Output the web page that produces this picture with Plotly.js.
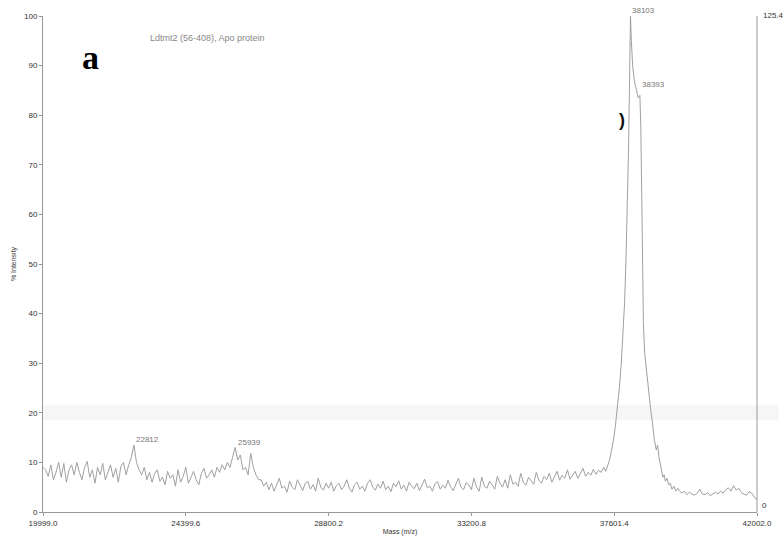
<!DOCTYPE html>
<html>
<head>
<meta charset="utf-8">
<script src="https://cdn.plot.ly/plotly-3.0.1.min.js"></script>
<style>html,body{margin:0;padding:0;background:#fff}#chart{width:783px;height:540px}</style>
</head>
<body>
<div id="chart"></div>
<script>
// Baseline sampled every 80 Da from 20000 to 37200
const gridStart = 20000;
const gridStep = 80;
const lowIntensity = [
  // 20000 - 22640
  9, 8.5, 7.2, 9.5, 6.5, 8, 10, 7, 9.8, 6, 8.5, 9.5, 7.5, 10, 8, 6.5, 9, 10.2, 7, 8.5,
  5.8, 9, 7.5, 9.8, 6.5, 8.2, 9.5, 7, 8.8, 6, 9.2, 10, 7.5, 9.5,
  // 22720 - 22960 (peak 22812)
  11, 13.5, 10, 8.5,
  // 23040 - 25760
  7.5, 9, 6.5, 8, 6, 7.8, 8.5, 6.2, 7, 5.5, 8.2, 6.8, 7.5, 5.2, 8.5, 6, 7.2, 9, 5.8, 7,
  8.2, 6.5, 5.5, 7.8, 8.8, 6.8, 7.5, 8.5, 7, 9, 8, 9.5, 8.5, 10, 9,
  // 25840 - 26640 (peak 25939)
  11, 13, 10.5, 11.5, 8.5, 9, 7.5, 11.8, 9, 7.5, 6.5,
  // 26720 - 33040
  6.5, 5.2, 6, 4.5, 5.8, 4.2, 5.5, 6.8, 4.8, 5.2,
  4, 6.2, 5, 4.5, 6.5, 5.2, 4.3, 5.8, 6.2, 4.6,
  5.5, 4.2, 6.8, 5, 4.4, 5.8, 4.8, 6, 4.2, 5.3,
  5.8, 4.5, 5.2, 6.5, 4.8, 4, 5.5, 6, 4.6, 5.2,
  4.2, 5.8, 6.5, 5, 4.4, 5.6, 4.8, 6.2, 4.5, 5.2,
  4.1, 5.8, 5.1, 6.3, 4.6, 5.4, 4.2, 6, 5.2, 4.7,
  5.8, 4.3, 5.5, 6.6, 4.9, 5.2, 4.2, 5.7, 6.1, 4.6,
  5.4, 4.8, 6.4, 5.1, 4.3, 5.6, 6.8, 5, 4.5, 5.9,
  // 33120 - 37200
  5.5, 4.5, 6.8, 5, 4.2, 7, 5.2, 4.8, 6.2, 5.5,
  4.6, 7.2, 5.8, 5, 6.5, 4.8, 7.5, 5.6, 6, 5.2,
  7.8, 6, 5.4, 7, 6.2, 5.6, 8, 6.4, 5.8, 7.2,
  6.5, 7.8, 6, 7, 8.2, 6.4, 7.4, 6.8, 8.5, 6.6,
  7.5, 8.2, 6.8, 7.8, 8.8, 7.2, 8, 7.4, 8.6, 7.6,
  8.4, 8
];

// Main peak region
const peakMass = [37280, 37340, 37400, 37460, 37520, 37580, 37640, 37700, 37760, 37820,
  37870, 37920, 37960, 38000, 38040, 38070, 38090, 38103,
  38130, 38170, 38220, 38280, 38340, 38393, 38420, 38450, 38475, 38500,
  38540, 38600, 38660, 38720, 38780, 38840, 38900, 38940, 38980, 39020,
  39060, 39100, 39140, 39180, 39230, 39280, 39330, 39380, 39440, 39500, 39560];
const peakIntensity = [9, 8.2, 9.5, 10.5, 12.5, 14.5, 17.5, 21, 25, 30,
  35, 42, 50, 60, 72, 85, 94, 100,
  95, 90, 87, 85, 83.5, 84, 78, 64, 50, 38,
  32, 28, 24, 21, 18, 14.5, 12.5, 13.5, 11, 10,
  8.5, 7, 7.5, 6.2, 6.8, 5.5, 5.8, 4.6, 5.2, 4.2, 4.8];

// Tail sampled every 80 Da from 39600 to 42000
const tailStart = 39600;
const tailIntensity = [4.4, 3.8, 4.2, 3.5, 4, 3.6, 3.4, 3.8, 4.6, 3.6,
  3.5, 3.9, 3.3, 3.7, 4, 3.6, 4.2, 3.8, 4.5, 4.9,
  4.2, 5.3, 4.4, 4.8, 3.9, 3.6, 3.4, 4.1, 3.8, 3,
  2.4];

const labelMass = [22812, 25939, 38103, 38393];
const labelIntensity = [13.5, 13, 100, 85];

const xTickVals = [19999.0, 24399.6, 28800.2, 33200.8, 37601.4, 42002.0];
const xTickText = ['19999.0', '24399.6', '28800.2', '33200.8', '37601.4', '42002.0'];
const yTickVals = [0, 10, 20, 30, 40, 50, 60, 70, 80, 90, 100];
const rightAxisText = ['0', '125.4'];

const chartTitle = 'Ldtmt2 (56-408), Apo protein';

// assemble series
const mass = [], intensity = [];
lowIntensity.forEach((v, i) => { mass.push(gridStart + i * gridStep); intensity.push(v); });
peakMass.forEach((m, i) => { mass.push(m); intensity.push(peakIntensity[i]); });
tailIntensity.forEach((v, i) => { mass.push(tailStart + i * gridStep); intensity.push(v); });

const tickFont = {family: 'Liberation Sans, Arial, sans-serif', size: 8, color: '#333'};

const annotations = labelMass.map((m, i) => ({
  x: m, y: labelIntensity[i], xref: 'x', yref: 'y', text: String(m),
  showarrow: false, xanchor: 'left', yanchor: 'bottom', xshift: 0, yshift: -1,
  font: {family: 'Liberation Sans, Arial, sans-serif', size: 8, color: '#777'}
}));
annotations.push({x: 0.23, y: 0.955, xref: 'paper', yref: 'paper', text: chartTitle,
  showarrow: false, xanchor: 'center', yanchor: 'middle',
  font: {family: 'Liberation Sans, Arial, sans-serif', size: 9, color: '#888'}});
annotations.push({x: 0.066, y: 0.917, xref: 'paper', yref: 'paper', text: '<b>a</b>',
  showarrow: false, xanchor: 'center', yanchor: 'middle',
  font: {family: 'Liberation Serif, DejaVu Serif, serif', size: 34, color: '#000'}});
annotations.push({x: 1, y: 0, xref: 'paper', yref: 'paper', text: rightAxisText[0],
  showarrow: false, xanchor: 'left', yanchor: 'bottom', xshift: 3, yshift: 0,
  font: tickFont});
annotations.push({x: 1, y: 1, xref: 'paper', yref: 'paper', text: rightAxisText[1],
  showarrow: false, xanchor: 'left', yanchor: 'middle', xshift: 4, yshift: 1,
  font: tickFont});
annotations.push({x: 0.811, y: 0.79, xref: 'paper', yref: 'paper', text: '<b>)</b>',
  showarrow: false, xanchor: 'center', yanchor: 'middle',
  font: {family: 'Liberation Sans, Arial, sans-serif', size: 18, color: '#111'}});

const layout = {
  width: 783, height: 540,
  margin: {l: 43, r: 26, t: 16, b: 28},
  paper_bgcolor: '#fff', plot_bgcolor: '#fff',
  showlegend: false,
  xaxis: {
    range: [19999.0, 42002.0], tickvals: xTickVals, ticktext: xTickText,
    showgrid: false, zeroline: false, showline: true, linecolor: '#999', linewidth: 1,
    ticks: 'outside', ticklen: 3, tickcolor: '#999', tickfont: tickFont,
    title: {text: 'Mass (m/z)', font: {family: 'Liberation Sans, Arial, sans-serif', size: 7, color: '#333'}, standoff: 2}
  },
  yaxis: {
    range: [0, 100], tickvals: yTickVals,
    showgrid: false, zeroline: false, showline: true, linecolor: '#999', linewidth: 1,
    ticks: 'outside', ticklen: 3, tickcolor: '#999', tickfont: tickFont,
    title: {text: '% Intensity', font: {family: 'Liberation Sans, Arial, sans-serif', size: 7, color: '#444'}, standoff: 6}
  },
  shapes: [
    {type: 'line', xref: 'paper', yref: 'paper', x0: 1, x1: 1, y0: 0, y1: 1, line: {color: '#999', width: 1}},
    {type: 'rect', xref: 'paper', yref: 'paper', x0: 0, x1: 1.03, y0: 0.185, y1: 0.215, fillcolor: '#f6f6f6', line: {width: 0}, layer: 'below'}
  ],
  annotations: annotations
};

Plotly.newPlot('chart', [{
  type: 'scatter', mode: 'lines', x: mass, y: intensity,
  line: {color: '#a0a0a0', width: 1}, hoverinfo: 'skip'
}], layout, {displayModeBar: false, staticPlot: true});
</script>
</body>
</html>
